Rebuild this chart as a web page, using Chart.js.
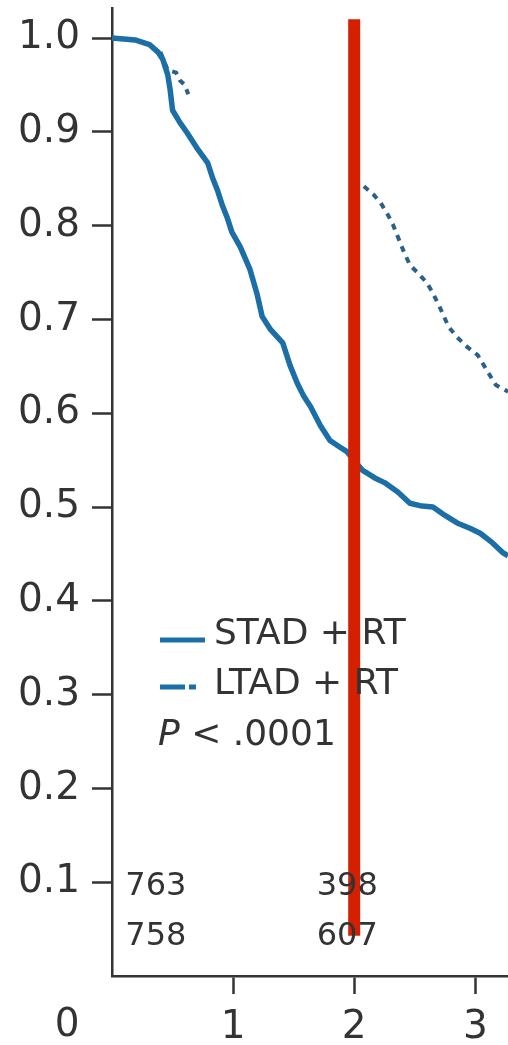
<!DOCTYPE html>
<html>
<head>
<meta charset="utf-8">
<script src="https://cdn.jsdelivr.net/npm/chart.js@4/dist/chart.umd.min.js"></script>
<style>
  html, body { margin: 0; padding: 0; background: #fff; }
  #wrap { width: 508px; height: 1045px; }
</style>
</head>
<body>
<div id="wrap"><canvas id="kmChart" width="508" height="1045"></canvas></div>
<script>
// survival curves (years, proportion)
const stadTimes = [0, 0.19, 0.31, 0.38, 0.42, 0.46, 0.48, 0.50, 0.56, 0.62, 0.70, 0.79, 0.83, 0.87, 0.91, 0.95, 0.99,
    1.06, 1.14, 1.20, 1.24, 1.31, 1.41, 1.47, 1.53, 1.58, 1.64, 1.72, 1.80, 1.88, 1.94, 2.07, 2.17, 2.25, 2.36,
    2.46, 2.56, 2.65, 2.75, 2.85, 2.96, 3.04, 3.14, 3.23, 3.27];
const stadSurv = [1.0, 0.998, 0.993, 0.985, 0.977, 0.961, 0.945, 0.923, 0.910, 0.899, 0.883, 0.867, 0.851, 0.838, 0.822, 0.809, 0.793,
    0.777, 0.753, 0.726, 0.703, 0.689, 0.675, 0.651, 0.632, 0.619, 0.607, 0.587, 0.571, 0.564, 0.559, 0.539, 0.531, 0.526, 0.516,
    0.504, 0.501, 0.500, 0.491, 0.483, 0.477, 0.472, 0.462, 0.451, 0.448];

// LTAD only shows in two pieces, the middle is blanked (null)
const ltadTimes = [0.40, 0.46, 0.53, 0.56, 0.60, 0.63, 1.30,
    2.08, 2.16, 2.22, 2.28, 2.32, 2.37, 2.41, 2.46, 2.53, 2.60, 2.65, 2.71, 2.78, 2.85, 2.93, 3.02, 3.08, 3.17, 3.27];
const ltadSurv = [0.985, 0.966, 0.963, 0.955, 0.950, 0.940, null,
    0.842, 0.833, 0.824, 0.811, 0.801, 0.785, 0.772, 0.758, 0.749, 0.739, 0.728, 0.712, 0.692, 0.681, 0.671, 0.662, 0.649, 0.630, 0.623];

// red marker bar at 2 years
const markerTimes = [2, 2];
const markerY = [0.043, 1.020];

const xTicks = [1, 2, 3];
const yTicks = [0, 0.1, 0.2, 0.3, 0.4, 0.5, 0.6, 0.7, 0.8, 0.9, 1.0];

// numbers at risk
const riskTimes = [0.11, 1.69];
const riskSTAD = [763, 398];
const riskLTAD = [758, 607];

const BLUE = '#1b6ea6';
const DASH_BLUE = '#2b6189';
const INK = '#333333';

function pts(xs, ys) {
    return xs.map((x, i) => ({ x: x, y: ys[i] }));
}

const extras = {
    id: 'extras',
    afterDraw(chart) {
        const ctx = chart.ctx;
        const xs = chart.scales.x;
        const ys = chart.scales.y;
        ctx.save();

        // corner "0" label
        ctx.fillStyle = INK;
        ctx.font = '39px "DejaVu Sans"';
        ctx.textAlign = 'center';
        ctx.textBaseline = 'middle';
        ctx.fillText('0', xs.getPixelForValue(-0.37), 1026);

        // numbers at risk
        ctx.font = '32px "DejaVu Sans"';
        ctx.textAlign = 'left';
        riskTimes.forEach((t, i) => {
            ctx.fillText(String(riskSTAD[i]), xs.getPixelForValue(t), ys.getPixelForValue(0.095));
            ctx.fillText(String(riskLTAD[i]), xs.getPixelForValue(t), ys.getPixelForValue(0.042));
        });

        // legend
        ctx.lineCap = 'butt';
        ctx.strokeStyle = BLUE;
        ctx.lineWidth = 5;
        ctx.beginPath(); ctx.moveTo(160, 640); ctx.lineTo(205, 640); ctx.stroke();
        ctx.beginPath(); ctx.moveTo(160, 687); ctx.lineTo(185, 687); ctx.stroke();
        ctx.beginPath(); ctx.moveTo(189, 687); ctx.lineTo(196, 687); ctx.stroke();

        ctx.font = '36px "DejaVu Sans"';
        ctx.fillStyle = INK;
        ctx.fillText('STAD + RT', 214, 635);
        ctx.fillText('LTAD + RT', 214, 685);
        ctx.font = 'italic 36px "DejaVu Sans"';
        ctx.fillText('P', 158, 736);
        const pw = ctx.measureText('P').width;
        ctx.font = '36px "DejaVu Sans"';
        ctx.fillText(' < .0001', 158 + pw, 736);

        ctx.restore();
    }
};

new Chart(document.getElementById('kmChart'), {
    type: 'line',
    data: {
        datasets: [
            {
                label: 'marker',
                data: pts(markerTimes, markerY),
                borderColor: '#d41f00',
                borderWidth: 12,
                borderCapStyle: 'butt',
                pointRadius: 0,
                order: 0
            },
            {
                label: 'STAD + RT',
                data: pts(stadTimes, stadSurv),
                borderColor: BLUE,
                borderWidth: 5.5,
                borderJoinStyle: 'round',
                pointRadius: 0,
                tension: 0,
                order: 1
            },
            {
                label: 'LTAD + RT',
                data: pts(ltadTimes, ltadSurv),
                borderColor: DASH_BLUE,
                borderWidth: 4,
                borderDash: [6, 6],
                pointRadius: 0,
                tension: 0,
                spanGaps: false,
                order: 2
            }
        ]
    },
    options: {
        responsive: false,
        animation: false,
        layout: { padding: { top: 8, right: 0, left: 0, bottom: 0 } },
        plugins: { legend: { display: false }, tooltip: { enabled: false } },
        scales: {
            x: {
                type: 'linear',
                min: 0,
                max: 3.27,
                afterFit: s => { s.height = 69; s.paddingLeft = 0; s.paddingRight = 0; },
                afterBuildTicks: s => { s.ticks = xTicks.map(v => ({ value: v })); },
                border: { display: true, color: INK, width: 2.5 },
                grid: { drawOnChartArea: false, tickLength: 18, tickWidth: 2.5, tickColor: INK },
                ticks: {
                    color: INK,
                    font: { family: 'DejaVu Sans', size: 39 },
                    padding: 10,
                    maxRotation: 0,
                    callback: v => String(v)
                }
            },
            y: {
                min: 0,
                max: 1.032,
                afterFit: s => { s.width = 112; s.paddingTop = 0; s.paddingBottom = 0; },
                afterBuildTicks: s => { s.ticks = yTicks.map(v => ({ value: v })); },
                border: { display: true, color: INK, width: 2.5 },
                grid: {
                    drawOnChartArea: false,
                    tickLength: 20,
                    tickWidth: 2.5,
                    tickColor: c => (c.tick && c.tick.value === 0 ? 'rgba(0,0,0,0)' : INK)
                },
                ticks: {
                    color: INK,
                    font: { family: 'DejaVu Sans', size: 39 },
                    padding: 12,
                    callback: v => (v === 0 ? '' : v.toFixed(1))
                }
            }
        }
    },
    plugins: [extras]
});
</script>
</body>
</html>
